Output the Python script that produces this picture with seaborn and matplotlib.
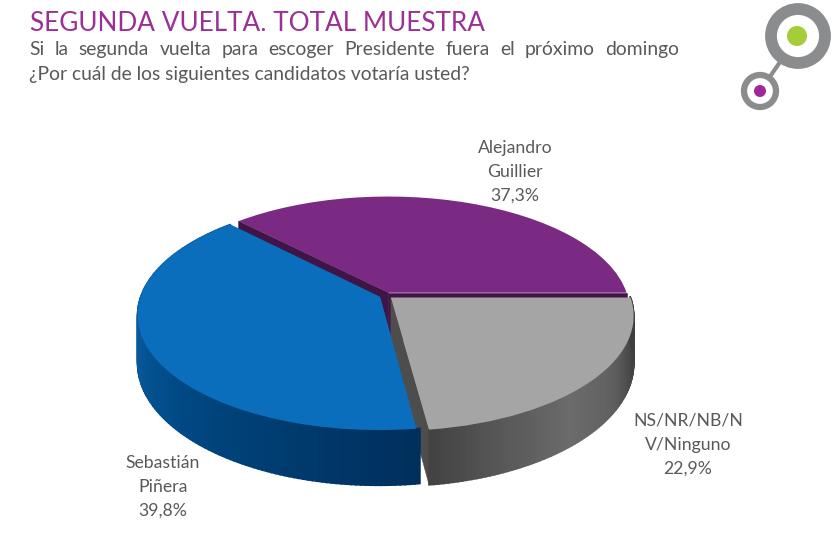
import numpy as np
import matplotlib
matplotlib.use("Agg")
import matplotlib.pyplot as plt
import matplotlib.transforms as mtransforms
from matplotlib.patches import Circle, Polygon
import seaborn as sns

title_text = "SEGUNDA VUELTA. TOTAL MUESTRA"
question_line1 = "Si la segunda vuelta para escoger Presidente fuera el próximo domingo"
question_line2 = "¿Por cuál de los siguientes candidatos votaría usted?"

candidates = ["Alejandro\nGuillier", "Sebastián\nPiñera", "NS/NR/NB/N\nV/Ninguno"]
shares = [37.3, 39.8, 22.9]
share_labels = ["37,3%", "39,8%", "22,9%"]

top_colors = ["#7a2a82", "#0a6ebd", "#a5a5a5"]
face_colors = ["#3f1446", "#00427a", "#4d4d4d"]
side_colors = [["#4f1a55", "#4f1a55"],
               ["#0a5fa8", "#0b62ad", "#0a5a9f", "#004a85", "#003c70", "#002f5c"],
               ["#434343", "#5a5a5a", "#6b6b6b", "#606060", "#444444", "#3d3d3d"]]

# pie centre and size on the page, in pixels
CX, CY, RX, RY = 386, 295.5, 239, 112
PERSP = 0.156
DEPTH = 46.5


# tilted view of the flat pie, far side smaller than the near side
def project(x, y):
    w = 1 + PERSP * y
    return CX + RX * x / w, CY - RY * y / w, DEPTH / w


class PieView(mtransforms.Transform):
    input_dims = 2
    output_dims = 2

    def transform_non_affine(self, values):
        px, py, _ = project(values[:, 0], values[:, 1])
        return np.column_stack([px, py])


# side wall of one slice, built from small strips so the shading can change
def draw_side(ax, wedge, colors, z):
    angles = np.radians(np.arange(wedge.theta1, wedge.theta2 + 1, 1.0))
    shades = sns.blend_palette(colors, n_colors=len(angles))
    xs = wedge.center[0] + np.cos(angles)
    ys = wedge.center[1] + np.sin(angles)
    px, py, d = project(xs, ys)
    for i in range(len(angles) - 1):
        pts = [(px[i], py[i]), (px[i + 1], py[i + 1]),
               (px[i + 1], py[i + 1] + d[i + 1]), (px[i], py[i] + d[i])]
        ax.add_patch(Polygon(pts, fc=shades[i], ec=shades[i], lw=1.2, zorder=z))


# flat cut face between the slice centre and one end of its arc
def draw_face(ax, wedge, theta, color, z):
    a = np.radians(theta)
    x0, y0 = wedge.center
    ax0, ay0, d0 = project(x0, y0)
    ax1, ay1, d1 = project(x0 + np.cos(a), y0 + np.sin(a))
    pts = [(ax0, ay0), (ax1, ay1), (ax1, ay1 + d1), (ax0, ay0 + d0)]
    ax.add_patch(Polygon(pts, fc=color, ec=color, lw=0.4, zorder=z))


# text line stretched word by word to fill the width
def justified(fig, ax, text, x0, x1, y, **kw):
    words = text.split(" ")
    renderer = fig.canvas.get_renderer()
    items = [ax.text(x0, y, w, va="baseline", ha="left", **kw) for w in words]
    widths = [t.get_window_extent(renderer).width for t in items]
    gap = (x1 - x0 - sum(widths)) / (len(words) - 1)
    x = x0
    for t, w in zip(items, widths):
        t.set_x(x)
        x += w + gap


def main():
    sns.set_theme(style="white")
    plt.rcParams["font.family"] = ["Lato", "DejaVu Sans"]

    fig = plt.figure(figsize=(8.4, 5.58), dpi=100, facecolor="white")
    ax = fig.add_axes([0, 0, 1, 1])

    wedges, _ = ax.pie(shares, startangle=0, explode=[0.027] * 3,
                       colors=sns.color_palette(top_colors), normalize=True)
    ax.set_aspect("auto")
    ax.set_xlim(0, 840)
    ax.set_ylim(558, 0)
    ax.axis("off")

    view = PieView() + ax.transData
    purple, blue, gray = wedges
    for w in wedges:
        w.set_transform(view)
        w.set_clip_on(False)
        w.set_linewidth(0)

    # back to front: purple, gray, blue
    draw_face(ax, purple, purple.theta1, face_colors[0], 1)
    draw_face(ax, purple, purple.theta2, face_colors[0], 1)
    purple.set_zorder(2)
    draw_face(ax, gray, gray.theta1, face_colors[2], 3)
    draw_side(ax, gray, side_colors[2], 3)
    gray.set_zorder(4)
    draw_side(ax, blue, side_colors[1], 5)
    blue.set_zorder(6)

    # slice labels
    label_pos = [(515, 172), (163, 487), (688, 445)]
    for name, pct, (lx, ly) in zip(candidates, share_labels, label_pos):
        ax.text(lx, ly, name + "\n" + pct, ha="center", va="center",
                fontsize=12.7, color="#595959", linespacing=1.62)

    # header
    ax.text(30, 31, title_text, fontsize=18.8, color="#9b2f96", va="baseline", ha="left")
    fig.canvas.draw()
    justified(fig, ax, question_line1, 29, 679, 55, fontsize=13.9, color="#595959")
    ax.text(29, 80, question_line2, fontsize=13.9, color="#595959", va="baseline", ha="left")

    # logo
    ax.plot([798, 760], [36, 91], color="#8a8c8e", lw=3, zorder=7)
    ax.add_patch(Circle((798, 36), 27, fc="white", ec="#8a8c8e", lw=8.5, zorder=8))
    ax.add_patch(Circle((797, 36), 10, fc="#a5cd39", ec="none", zorder=9))
    ax.add_patch(Circle((760, 91), 16, fc="white", ec="#8a8c8e", lw=4.5, zorder=8))
    ax.add_patch(Circle((760, 91), 6, fc="#a0289a", ec="none", zorder=9))

    fig.savefig("out.png", dpi=100, facecolor="white")
    print(purple.center, purple.theta1, purple.theta2, blue.theta1, gray.theta1, gray.theta2, gray.center)


if __name__ == "__main__":
    main()
